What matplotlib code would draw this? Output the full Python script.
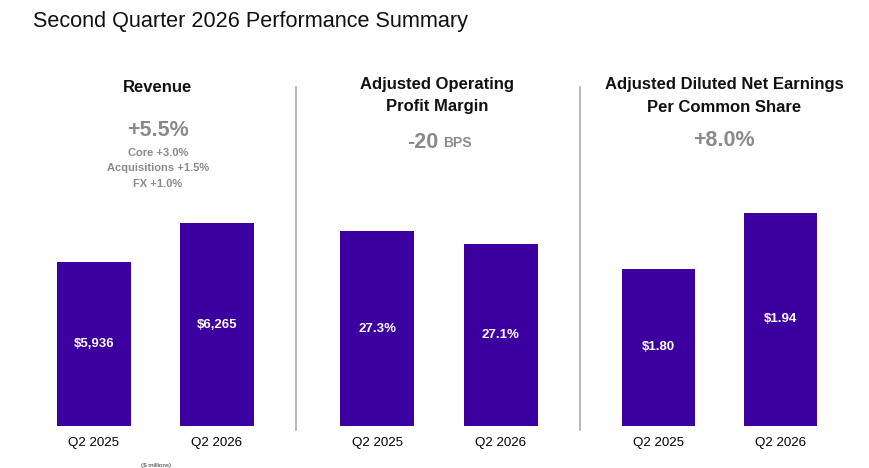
import matplotlib
matplotlib.use('Agg')
import matplotlib.pyplot as plt

periods = ['Q2 2025', 'Q2 2026']
revenue = [5936, 6265]
margin = [27.3, 27.1]
eps = [1.80, 1.94]
revenue_labels = ['$5,936', '$6,265']
margin_labels = ['27.3%', '27.1%']
eps_labels = ['$1.80', '$1.94']

FONT = 'Liberation Sans'
BAR = '#3c00a0'
GREY = '#8a8a8a'
W, H = 870, 468

fig = plt.figure(figsize=(8.7, 4.68), dpi=100)
fig.patch.set_facecolor('white')


def px_axes(x0, x1, y0, y1):
    # pixel box -> figure axes (y from top)
    return fig.add_axes([x0 / W, 1 - y1 / H, (x1 - x0) / W, (y1 - y0) / H])


def panel(x0, x1, values, labels, ylim):
    ax = px_axes(x0, x1, 100, 426)
    ax.bar([0, 1], values, width=0.6, color=BAR)
    ax.set_xlim(-0.52, 1.52)
    ax.set_ylim(*ylim)
    for i, (v, lab) in enumerate(zip(values, labels)):
        ax.text(i, (ylim[0] + v) / 2, lab, ha='center', va='center', color='white',
                fontsize=9.5, fontweight='bold', family=FONT)
    ax.set_xticks([0, 1])
    ax.set_xticklabels(periods, fontsize=9.6, family=FONT)
    ax.tick_params(axis='x', length=0, pad=8)
    ax.set_yticks([])
    for s in ax.spines.values():
        s.set_visible(False)
    return ax


panel(30, 281, revenue, revenue_labels, (4553, 7304))
panel(313, 565, margin, margin_labels, (24.3, 29.32))
panel(595, 844, eps, eps_labels, (1.4075, 2.2225))

# dividers
for x in (296, 580):
    fig.add_artist(plt.Line2D([x / W, x / W], [1 - 87 / H, 1 - 430 / H],
                              color='#aaaaaa', lw=1.2))


def t(x, y, s, **kw):
    fig.text(x / W, 1 - y / H, s, ha=kw.pop('ha', 'center'), va='center',
             family=FONT, **kw)


t(33, 22, 'Second Quarter 2026 Performance Summary', ha='left', fontsize=15.6,
  color='#111111')

t(158, 88, 'Revenue', fontsize=12, fontweight='bold', color='#111111')
t(158, 130, '+5.5%', fontsize=15.5, fontweight='bold', color=GREY)
t(158, 153, 'Core +3.0%', fontsize=8, fontweight='bold', color=GREY)
t(158, 168, 'Acquisitions +1.5%', fontsize=8, fontweight='bold', color=GREY)
t(158, 184, 'FX +1.0%', fontsize=8, fontweight='bold', color=GREY)
t(156, 465, '($ millions)', fontsize=4.5, color='#333333')

t(437, 84, 'Adjusted Operating', fontsize=12, fontweight='bold', color='#111111')
t(437, 107, 'Profit Margin', fontsize=12, fontweight='bold', color='#111111')
t(438, 142, '-20', fontsize=15.5, fontweight='bold', color=GREY, ha='right')
t(443, 143, 'BPS', fontsize=10, fontweight='bold', color=GREY, ha='left')

t(724, 84, 'Adjusted Diluted Net Earnings', fontsize=12, fontweight='bold', color='#111111')
t(724, 107, 'Per Common Share', fontsize=12, fontweight='bold', color='#111111')
t(724, 140, '+8.0%', fontsize=15.5, fontweight='bold', color=GREY)

fig.savefig('out.png', dpi=100, facecolor='white')
